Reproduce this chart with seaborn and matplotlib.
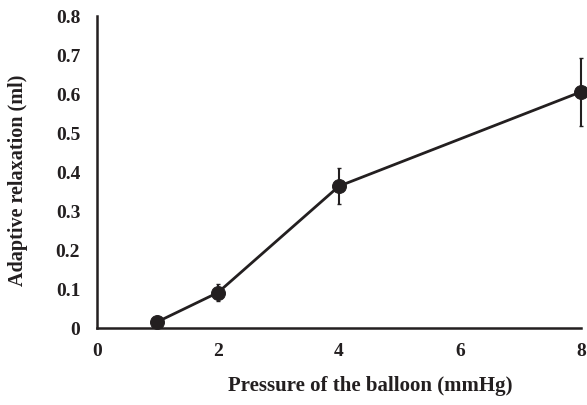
import matplotlib
matplotlib.use("Agg")
import matplotlib.pyplot as plt
import seaborn as sns
import pandas as pd

pressure = [1, 2, 4, 8]
relaxation = [0.016, 0.091, 0.364, 0.606]
sem = [0.010, 0.021, 0.047, 0.088]
x_ticks = [0, 2, 4, 6, 8]
y_ticks = [0, 0.1, 0.2, 0.3, 0.4, 0.5, 0.6, 0.7, 0.8]
y_tick_labels = ["0", "0.1", "0.2", "0.3", "0.4", "0.5", "0.6", "0.7", "0.8"]

sns.set_style("white")
plt.rcParams['font.family'] = ['Liberation Serif', 'DejaVu Serif']
plt.rcParams['font.weight'] = 'bold'

df = pd.DataFrame({"pressure": pressure, "relaxation": relaxation})

fig = plt.figure(figsize=(5.87, 4.05), dpi=100)
ax = fig.add_axes([0.165, 0.19, 0.825, 0.77])

ax.errorbar(pressure, relaxation, yerr=sem, fmt='none', ecolor='#231f20',
            elinewidth=1.5, capsize=1.5, capthick=1.0, clip_on=False, zorder=2)
sns.lineplot(data=df, x="pressure", y="relaxation", ax=ax, color='#231f20',
             linewidth=2, marker='o', markersize=10, markeredgecolor='#231f20',
             clip_on=False, zorder=3)

ax.set_xlim(0, 8)
ax.set_ylim(0, 0.8)
ax.set_xticks(x_ticks)
ax.set_xticklabels([str(t) for t in x_ticks])
ax.set_yticks(y_ticks)
ax.set_yticklabels(y_tick_labels)

for s in ['top', 'right']:
    ax.spines[s].set_visible(False)
for s in ['left', 'bottom']:
    ax.spines[s].set_color('#231f20')
    ax.spines[s].set_linewidth(1.8)

ax.tick_params(axis='x', direction='in', length=5, width=1, colors='#231f20',
               labelsize=14, pad=11)
ax.tick_params(axis='y', direction='out', length=5, width=1, colors='#231f20',
               labelsize=14, pad=7)
for lbl in ax.get_xticklabels() + ax.get_yticklabels():
    lbl.set_fontweight('bold')

ax.set_xlabel("Pressure of the balloon (mmHg)", fontsize=15, fontweight='bold',
              color='#231f20')
ax.set_ylabel("Adaptive relaxation (ml)", fontsize=14.5, fontweight='bold',
              color='#231f20')
ax.xaxis.set_label_coords(0.564, -0.155)
ax.yaxis.set_label_coords(-0.143, 0.474)

fig.savefig("out.png", dpi=100)
